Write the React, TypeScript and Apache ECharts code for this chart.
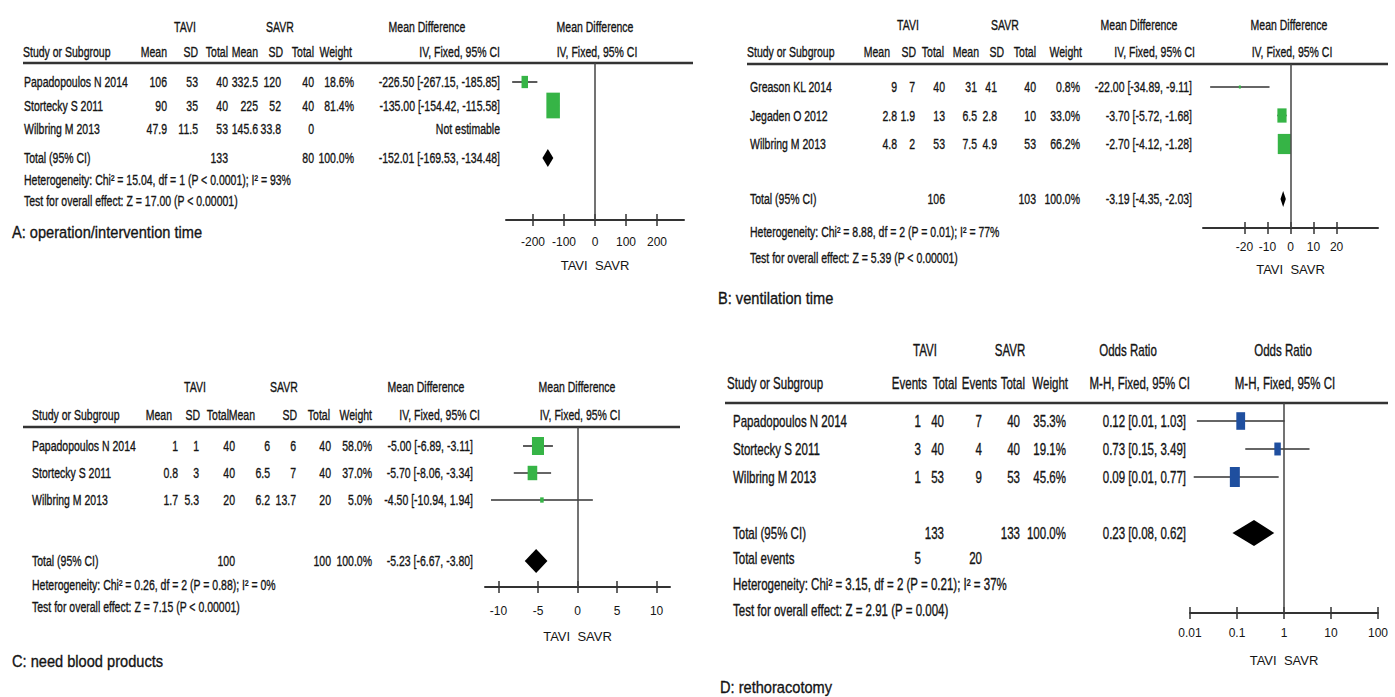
import React, { useEffect, useRef } from "react";
import * as echarts from "echarts";

// ================= DATA =================
// Panel A: operation/intervention time (Mean Difference, IV, Fixed, 95% CI)
const aStudies = ["Papadopoulos N 2014", "Stortecky S 2011", "Wilbring M 2013"];
const aTaviMean = [106, 90, 47.9];
const aTaviSD = [53, 35, 11.5];
const aTaviTotal = [40, 40, 53];
const aSavrMean = [332.5, 225, 145.6];
const aSavrSD = [120, 52, 33.8];
const aSavrTotal = [40, 40, 0];
const aWeight: (number | null)[] = [18.6, 81.4, null];
const aMD: (number | null)[] = [-226.5, -135.0, null];
const aLow: (number | null)[] = [-267.15, -154.42, null];
const aHigh: (number | null)[] = [-185.85, -115.58, null];
const aTotals = [133, 80];
const aPooled = [-152.01, -169.53, -134.48];
const aHet = "Heterogeneity: Chi² = 15.04, df = 1 (P < 0.0001); I² = 93%";
const aTest = "Test for overall effect: Z = 17.00 (P < 0.00001)";
const aLabel = "A: operation/intervention time";
const aTicks = [-200, -100, 0, 100, 200];

// Panel B: ventilation time
const bStudies = ["Greason KL 2014", "Jegaden O 2012", "Wilbring M 2013"];
const bTaviMean = [9, 2.8, 4.8];
const bTaviSD = [7, 1.9, 2];
const bTaviTotal = [40, 13, 53];
const bSavrMean = [31, 6.5, 7.5];
const bSavrSD = [41, 2.8, 4.9];
const bSavrTotal = [40, 10, 53];
const bWeight = [0.8, 33.0, 66.2];
const bMD = [-22.0, -3.7, -2.7];
const bLow = [-34.89, -5.72, -4.12];
const bHigh = [-9.11, -1.68, -1.28];
const bTotals = [106, 103];
const bPooled = [-3.19, -4.35, -2.03];
const bHet = "Heterogeneity: Chi² = 8.88, df = 2 (P = 0.01); I² = 77%";
const bTest = "Test for overall effect: Z = 5.39 (P < 0.00001)";
const bLabel = "B: ventilation time";
const bTicks = [-20, -10, 0, 10, 20];

// Panel C: need blood products
const cStudies = ["Papadopoulos N 2014", "Stortecky S 2011", "Wilbring M 2013"];
const cTaviMean = [1, 0.8, 1.7];
const cTaviSD = [1, 3, 5.3];
const cTaviTotal = [40, 40, 20];
const cSavrMean = [6, 6.5, 6.2];
const cSavrSD = [6, 7, 13.7];
const cSavrTotal = [40, 40, 20];
const cWeight = [58.0, 37.0, 5.0];
const cMD = [-5.0, -5.7, -4.5];
const cLow = [-6.89, -8.06, -10.94];
const cHigh = [-3.11, -3.34, 1.94];
const cTotals = [100, 100];
const cPooled = [-5.23, -6.67, -3.8];
const cHet = "Heterogeneity: Chi² = 0.26, df = 2 (P = 0.88); I² = 0%";
const cTest = "Test for overall effect: Z = 7.15 (P < 0.00001)";
const cLabel = "C: need blood products";
const cTicks = [-10, -5, 0, 5, 10];

// Panel D: rethoracotomy (Odds Ratio, M-H, Fixed, 95% CI)
const dStudies = ["Papadopoulos N 2014", "Stortecky S 2011", "Wilbring M 2013"];
const dTaviEvents = [1, 3, 1];
const dTaviTotal = [40, 40, 53];
const dSavrEvents = [7, 4, 9];
const dSavrTotal = [40, 40, 53];
const dWeight = [35.3, 19.1, 45.6];
const dOR = [0.12, 0.73, 0.09];
const dLow = [0.014, 0.15, 0.012];
const dHigh = [1.03, 3.49, 0.77];
const dTotals = [133, 133];
const dTotalEvents = [5, 20];
const dPooled = [0.23, 0.08, 0.62];
const dHet = "Heterogeneity: Chi² = 3.15, df = 2 (P = 0.21); I² = 37%";
const dTest = "Test for overall effect: Z = 2.91 (P = 0.004)";
const dLabel = "D: rethoracotomy";

// ================= STYLE / LAYOUT =================
const GREEN = "#36b446";
const BLUE = "#1f4f9f";
const INK = "#141414";
const FONT = '"Liberation Sans", Arial, Helvetica, sans-serif';

const ci = (m: number, l: number, h: number) =>
  `${m.toFixed(2)} [${l.toFixed(2)}, ${h.toFixed(2)}]`;
const pct = (w: number | null) => (w == null ? "" : `${w.toFixed(1)}%`);

type PanelData = {
  studies: string[];
  cells: string[][];
  totalCells: [number, string][];
  eventsCells?: [number, string][];
  het: string;
  test: string;
  label: string;
  marks: { mean: number | null; low: number | null; high: number | null; weight: number | null }[];
  pooled: number[];
};

type PanelCfg = {
  fs: number;
  sx: number;
  nameX: number;
  lineX: [number, number];
  header1: [string, number][];
  header2: [string, number, string][];
  colX: number[];
  y: {
    h1: number; h2: number; line: number; row0: number; step: number;
    total: number; events?: number; het: number; test: number; label: number; axis: number;
  };
  labelX: number;
  grid: { left: number; width: number };
  axis: { type: "value" | "log"; min: number; max: number; ticks?: number[]; labelMargin: number; nameGap: number; zero: number };
  mark: { k: number; asp: number; dh: number; color: string };
};

const marksOf = (m: (number | null)[], l: (number | null)[], h: (number | null)[], w: (number | null)[]) =>
  m.map((v, i) => ({ mean: v, low: l[i], high: h[i], weight: w[i] }));

const panelA: PanelData = {
  studies: aStudies,
  cells: aStudies.map((_, i) => [
    String(aTaviMean[i]), String(aTaviSD[i]), String(aTaviTotal[i]),
    String(aSavrMean[i]), String(aSavrSD[i]), String(aSavrTotal[i]),
    pct(aWeight[i]),
    aMD[i] == null ? "Not estimable" : ci(aMD[i] as number, aLow[i] as number, aHigh[i] as number),
  ]),
  totalCells: [[2, String(aTotals[0])], [5, String(aTotals[1])], [6, "100.0%"], [7, ci(aPooled[0], aPooled[1], aPooled[2])]],
  het: aHet, test: aTest, label: aLabel,
  marks: marksOf(aMD, aLow, aHigh, aWeight),
  pooled: aPooled,
};

const panelB: PanelData = {
  studies: bStudies,
  cells: bStudies.map((_, i) => [
    String(bTaviMean[i]), String(bTaviSD[i]), String(bTaviTotal[i]),
    String(bSavrMean[i]), String(bSavrSD[i]), String(bSavrTotal[i]),
    pct(bWeight[i]), ci(bMD[i], bLow[i], bHigh[i]),
  ]),
  totalCells: [[2, String(bTotals[0])], [5, String(bTotals[1])], [6, "100.0%"], [7, ci(bPooled[0], bPooled[1], bPooled[2])]],
  het: bHet, test: bTest, label: bLabel,
  marks: marksOf(bMD, bLow, bHigh, bWeight),
  pooled: bPooled,
};

const panelC: PanelData = {
  studies: cStudies,
  cells: cStudies.map((_, i) => [
    String(cTaviMean[i]), String(cTaviSD[i]), String(cTaviTotal[i]),
    String(cSavrMean[i]), String(cSavrSD[i]), String(cSavrTotal[i]),
    pct(cWeight[i]), ci(cMD[i], cLow[i], cHigh[i]),
  ]),
  totalCells: [[2, String(cTotals[0])], [5, String(cTotals[1])], [6, "100.0%"], [7, ci(cPooled[0], cPooled[1], cPooled[2])]],
  het: cHet, test: cTest, label: cLabel,
  marks: marksOf(cMD, cLow, cHigh, cWeight),
  pooled: cPooled,
};

const panelD: PanelData = {
  studies: dStudies,
  cells: dStudies.map((_, i) => [
    String(dTaviEvents[i]), String(dTaviTotal[i]), String(dSavrEvents[i]), String(dSavrTotal[i]),
    pct(dWeight[i]), ci(dOR[i], dLow[i], dHigh[i]),
  ]),
  totalCells: [[1, String(dTotals[0])], [3, String(dTotals[1])], [4, "100.0%"], [5, ci(dPooled[0], dPooled[1], dPooled[2])]],
  eventsCells: [[0, String(dTotalEvents[0])], [2, String(dTotalEvents[1])]],
  het: dHet, test: dTest, label: dLabel,
  marks: marksOf(dOR, dLow, dHigh, dWeight),
  pooled: dPooled,
};

const cfgA: PanelCfg = {
  fs: 15, sx: 0.7, nameX: 24, lineX: [23, 693],
  header1: [["TAVI", 185], ["SAVR", 280], ["Mean Difference", 427], ["Mean Difference", 595]],
  header2: [["Study or Subgroup", 23, "left"], ["Mean", 167, "right"], ["SD", 198, "right"], ["Total", 228, "right"],
    ["Mean", 258, "right"], ["SD", 283, "right"], ["Total", 314, "right"], ["Weight", 352, "right"],
    ["IV, Fixed, 95% CI", 500, "right"], ["IV, Fixed, 95% CI", 597, "center"]],
  colX: [167, 198, 228, 258, 281, 314, 354, 500],
  y: { h1: 27, h2: 52, line: 63, row0: 82, step: 23.5, total: 158, het: 180, test: 201, label: 232, axis: 220 },
  labelX: 12,
  grid: { left: 506, width: 178 },
  axis: { type: "value", min: -287, max: 287, ticks: aTicks, labelMargin: 16, nameGap: 39, zero: 0 },
  mark: { k: 1.5, asp: 1.9, dh: 9, color: GREEN },
};

const cfgB: PanelCfg = {
  fs: 15, sx: 0.7, nameX: 750, lineX: [747, 1388],
  header1: [["TAVI", 908], ["SAVR", 1005], ["Mean Difference", 1139], ["Mean Difference", 1289]],
  header2: [["Study or Subgroup", 747, "left"], ["Mean", 890, "right"], ["SD", 916, "right"], ["Total", 944, "right"],
    ["Mean", 979, "right"], ["SD", 1004, "right"], ["Total", 1036, "right"], ["Weight", 1082, "right"],
    ["IV, Fixed, 95% CI", 1195, "right"], ["IV, Fixed, 95% CI", 1292, "center"]],
  colX: [897, 915, 945, 977, 997, 1036, 1080, 1192],
  y: { h1: 25, h2: 52, line: 64, row0: 87, step: 28.5, total: 199, het: 232, test: 258, label: 298, axis: 228 },
  labelX: 718,
  grid: { left: 1203, width: 175 },
  axis: { type: "value", min: -38, max: 38, ticks: bTicks, labelMargin: 13, nameGap: 35, zero: 0 },
  mark: { k: 1.6, asp: 1.55, dh: 8, color: GREEN },
};

const cfgC: PanelCfg = {
  fs: 15, sx: 0.7, nameX: 32, lineX: [23, 680],
  header1: [["TAVI", 195], ["SAVR", 284], ["Mean Difference", 426], ["Mean Difference", 577]],
  header2: [["Study or Subgroup", 32, "left"], ["Mean", 172, "right"], ["SD", 200, "right"], ["Total", 229, "right"],
    ["Mean", 255, "right"], ["SD", 297, "right"], ["Total", 330, "right"], ["Weight", 372, "right"],
    ["IV, Fixed, 95% CI", 480, "right"], ["IV, Fixed, 95% CI", 580, "center"]],
  colX: [178, 199, 235, 270, 296, 331, 372, 473],
  y: { h1: 387, h2: 415, line: 427, row0: 446, step: 27, total: 561, het: 585, test: 607, label: 661, axis: 587 },
  labelX: 12,
  grid: { left: 485, width: 185 },
  axis: { type: "value", min: -11.7, max: 11.7, ticks: cTicks, labelMargin: 18, nameGap: 43, zero: 0 },
  mark: { k: 1.58, asp: 1.5, dh: 12, color: GREEN },
};

const cfgD: PanelCfg = {
  fs: 16, sx: 0.72, nameX: 733, lineX: [725, 1388],
  header1: [["TAVI", 925], ["SAVR", 1010], ["Odds Ratio", 1128], ["Odds Ratio", 1283]],
  header2: [["Study or Subgroup", 727, "left"], ["Events", 927, "right"], ["Total", 957, "right"], ["Events", 997, "right"],
    ["Total", 1025, "right"], ["Weight", 1068, "right"], ["M-H, Fixed, 95% CI", 1190, "right"], ["M-H, Fixed, 95% CI", 1285, "center"]],
  colX: [921, 944, 982, 1020, 1066, 1186],
  y: { h1: 350, h2: 383, line: 403, row0: 421, step: 28, total: 533, events: 558, het: 584, test: 610, label: 687, axis: 613 },
  labelX: 720,
  grid: { left: 1190, width: 188 },
  axis: { type: "log", min: 0.01, max: 100, labelMargin: 14, nameGap: 41, zero: 1 },
  mark: { k: 1.48, asp: 2.0, dh: 13, color: BLUE },
};

function buildOption() {
  const graphics: any[] = [];
  const grids: any[] = [];
  const xAxes: any[] = [];
  const yAxes: any[] = [];
  const series: any[] = [];

  const panels: [PanelData, PanelCfg][] = [[panelA, cfgA], [panelB, cfgB], [panelC, cfgC], [panelD, cfgD]];

  panels.forEach(([pd, cfg], idx) => {
    const y = cfg.y;
    const t = (text: string, x: number, yy: number, align: string, fs = cfg.fs, sx = cfg.sx) => {
      graphics.push({
        type: "text", x, y: yy, scaleX: sx, silent: true,
        style: {
          text, fill: INK, stroke: INK, lineWidth: 0.35, fontSize: fs, fontFamily: FONT,
          align, textAlign: align, verticalAlign: "middle", textVerticalAlign: "middle",
        },
      });
    };
    cfg.header1.forEach(([s, x]) => t(s, x, y.h1, "center"));
    cfg.header2.forEach(([s, x, a]) => t(s, x, y.h2, a));
    graphics.push({
      type: "line", silent: true,
      shape: { x1: cfg.lineX[0], y1: y.line, x2: cfg.lineX[1], y2: y.line },
      style: { stroke: "#333", lineWidth: 2.5 },
    });
    pd.studies.forEach((name, i) => {
      const yy = y.row0 + i * y.step;
      t(name, cfg.nameX, yy, "left");
      pd.cells[i].forEach((c, j) => {
        if (c) t(c, cfg.colX[j], yy, "right");
      });
    });
    t("Total (95% CI)", cfg.nameX, y.total, "left");
    pd.totalCells.forEach(([j, c]) => t(c, cfg.colX[j], y.total, "right"));
    if (pd.eventsCells && y.events != null) {
      t("Total events", cfg.nameX, y.events, "left");
      pd.eventsCells.forEach(([j, c]) => t(c, cfg.colX[j], y.events as number, "right"));
    }
    t(pd.het, cfg.nameX, y.het, "left");
    t(pd.test, cfg.nameX, y.test, "left");
    t(pd.label, cfg.labelX, y.label, "left", 17, 0.86);

    grids.push({
      left: cfg.grid.left, width: cfg.grid.width, top: y.line, height: y.axis - y.line,
      containLabel: false, outerBoundsMode: "none",
    });

    const isLog = cfg.axis.type === "log";
    const common: any = {
      gridIndex: idx, type: cfg.axis.type, min: cfg.axis.min, max: cfg.axis.max,
      splitLine: { show: false }, position: "bottom",
    };
    if (isLog) common.logBase = 10;
    const tickExtra: any = cfg.axis.ticks ? { customValues: cfg.axis.ticks } : {};
    xAxes.push({
      ...common,
      axisLine: { show: true, onZero: false, lineStyle: { color: "#333", width: 2 } },
      axisTick: { show: true, length: 6, lineStyle: { color: "#333", width: 1.5 }, ...tickExtra },
      axisLabel: {
        show: true, margin: cfg.axis.labelMargin, fontSize: 12, color: INK, fontFamily: FONT,
        formatter: (v: number) => String(Number(Number(v).toPrecision(3))),
        ...tickExtra,
      },
      name: "TAVI  SAVR", nameLocation: "middle", nameGap: cfg.axis.nameGap,
      nameTextStyle: { fontSize: 13, color: INK, fontFamily: FONT },
    });
    xAxes.push({
      ...common,
      axisLine: { show: false, onZero: false },
      axisTick: { show: true, inside: true, length: 6, lineStyle: { color: "#333", width: 1.5 }, ...tickExtra },
      axisLabel: { show: false },
    });
    yAxes.push({
      gridIndex: idx, type: "value", inverse: true, show: false,
      min: (y.line - y.row0) / y.step, max: (y.axis - y.row0) / y.step,
      splitLine: { show: false },
    });

    const data: number[][] = [];
    pd.marks.forEach((m, i) => {
      if (m.mean != null && m.low != null && m.high != null && m.weight != null) {
        data.push([m.mean, m.low, m.high, i, m.weight, 0]);
      }
    });
    data.push([pd.pooled[0], pd.pooled[1], pd.pooled[2], (y.total - y.row0) / y.step, 100, 1]);

    const { k, asp, dh, color } = cfg.mark;
    series.push({
      type: "custom",
      coordinateSystem: "cartesian2d",
      xAxisIndex: idx * 2,
      yAxisIndex: idx,
      encode: { x: 0, y: 3 },
      data,
      clip: false,
      silent: true,
      renderItem: (_params: any, api: any) => {
        const mean = api.value(0), lo = api.value(1), hi = api.value(2), row = api.value(3);
        const w = api.value(4), kind = api.value(5);
        const pc = api.coord([mean, row]);
        const pl = api.coord([lo, row]);
        const ph = api.coord([hi, row]);
        if (kind === 1) {
          return {
            type: "polygon",
            shape: { points: [[pl[0], pc[1]], [pc[0], pc[1] - dh], [ph[0], pc[1]], [pc[0], pc[1] + dh]] },
            style: { fill: "#000" },
          };
        }
        const s = Math.max(2, k * Math.sqrt(w));
        const hh = s * asp;
        return {
          type: "group",
          children: [
            { type: "line", shape: { x1: pl[0], y1: pc[1], x2: ph[0], y2: pc[1] }, style: { stroke: "#333", lineWidth: 1.6 } },
            { type: "rect", shape: { x: pc[0] - s / 2, y: pc[1] - hh / 2, width: s, height: hh }, style: { fill: color } },
          ],
        };
      },
      markLine: {
        silent: true,
        symbol: ["none", "none"],
        label: { show: false },
        lineStyle: { color: "#444", width: 1.5, type: "solid" },
        data: [{ xAxis: cfg.axis.zero }],
      },
    });
  });

  return {
    animation: false,
    backgroundColor: "#fff",
    grid: grids,
    xAxis: xAxes,
    yAxis: yAxes,
    series,
    graphic: graphics,
  };
}

export default function App() {
  const ref = useRef<HTMLDivElement>(null);
  useEffect(() => {
    if (!ref.current) return;
    const chart = echarts.init(ref.current, undefined, { renderer: "svg" });
    chart.setOption(buildOption() as any);
    return () => chart.dispose();
  }, []);
  return (
    <div
      ref={ref}
      style={{ position: "absolute", left: 0, top: 0, width: 1395, height: 697, background: "#fff" }}
    />
  );
}
